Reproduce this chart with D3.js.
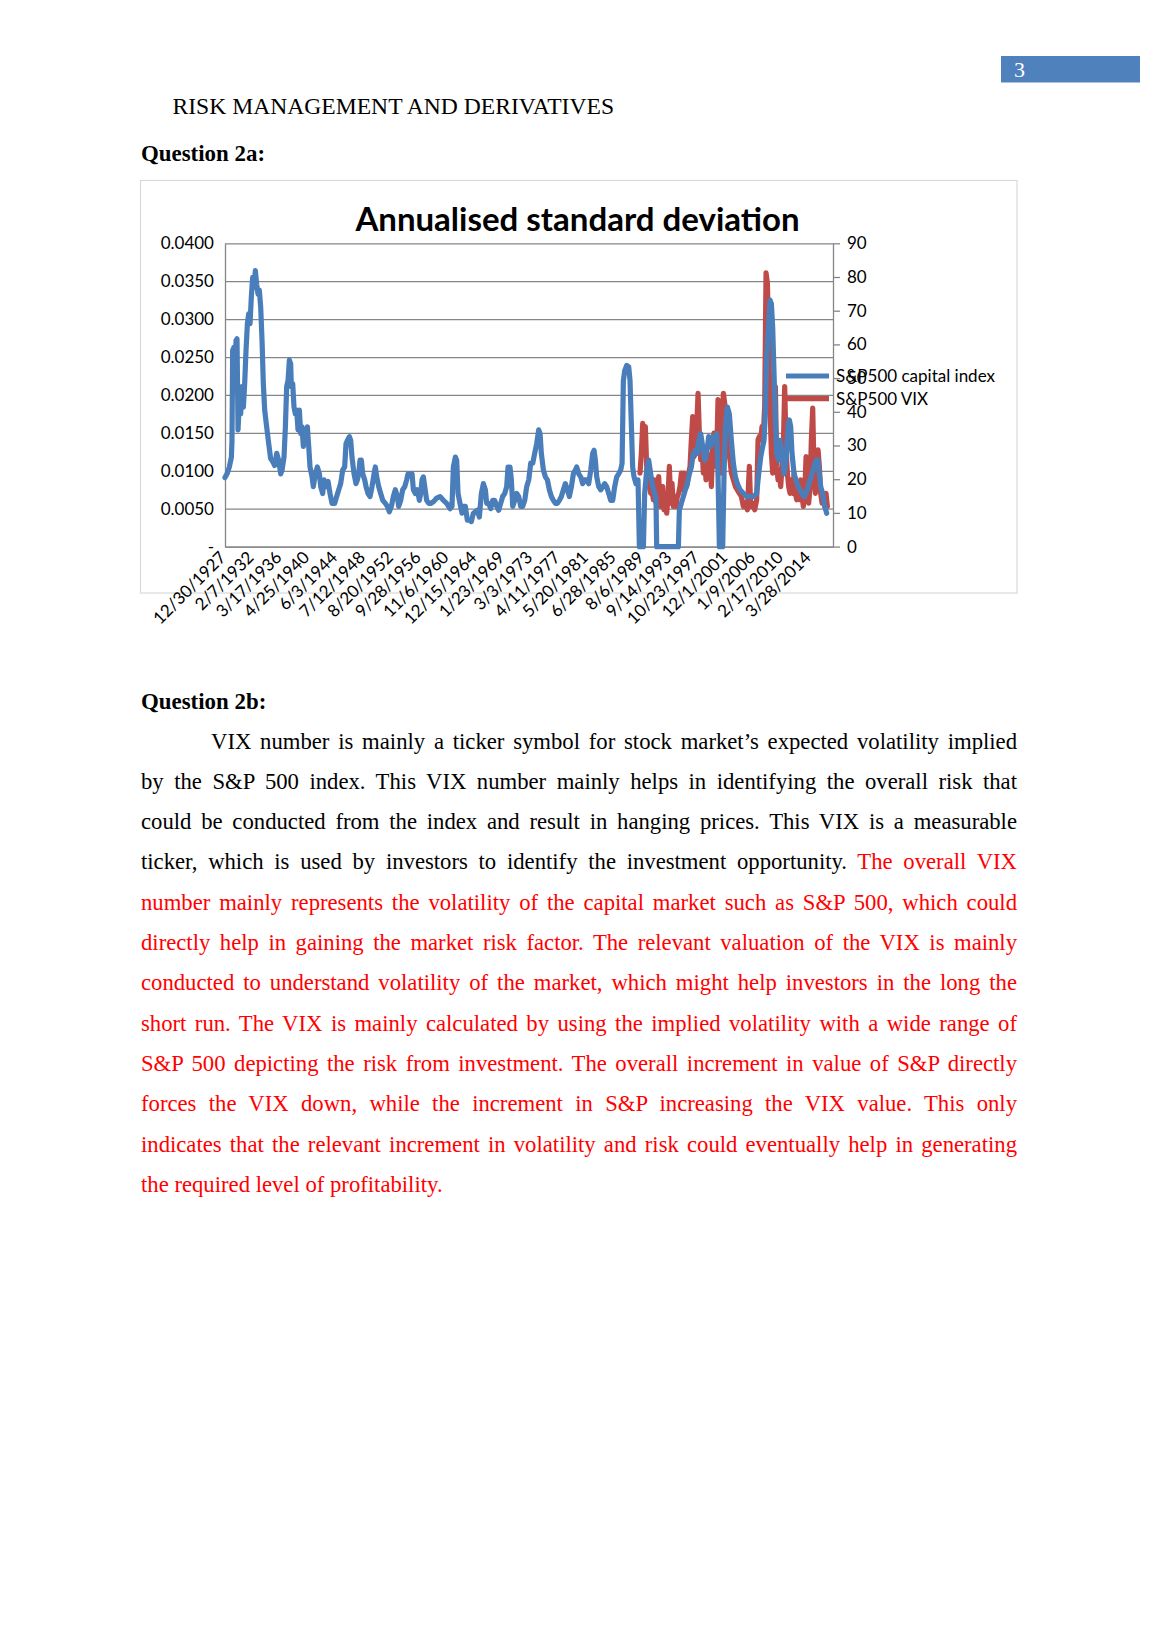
<!DOCTYPE html>
<html>
<head>
<meta charset="utf-8">
<script src="https://cdnjs.cloudflare.com/ajax/libs/d3/7.8.5/d3.min.js"></script>
<style>
body { margin: 0; background: #fff; }
#page { position: relative; width: 1158px; height: 1638px; overflow: hidden; background: #fff; }
#page svg { position: absolute; left: 0; top: 0; }
.line { position: absolute; left: 141px; width: 876px; height: 40.3px; line-height: 40.3px;
        font-family: "Liberation Serif", "Times New Roman", serif; font-size: 22.7px;
        text-align: justify; text-align-last: justify; color: #000; }
.line.first { text-indent: 70px; }
.line.last { text-align-last: left; }
.red { color: #ff0000; }
</style>
</head>
<body>
<div id="page"></div>
<script>
// S&P500 capital index, rolling std dev (left axis)  [year, value]
var spxStd = [
  [1928.00,0.0091],[1928.30,0.0096],[1928.64,0.0105],[1928.94,0.0118],[1929.03,0.0140],[1929.13,0.0259],
  [1929.33,0.0263],[1929.53,0.0206],[1929.62,0.0272],[1929.77,0.0274],[1929.92,0.0154],[1930.12,0.0193],
  [1930.31,0.0175],[1930.51,0.0211],[1930.71,0.0184],[1930.90,0.0215],[1931.10,0.0259],[1931.30,0.0294],
  [1931.49,0.0307],[1931.69,0.0294],[1931.88,0.0329],[1932.08,0.0355],[1932.28,0.0342],[1932.47,0.0364],
  [1932.67,0.0346],[1932.87,0.0333],[1933.06,0.0338],[1933.26,0.0316],[1933.46,0.0272],[1933.65,0.0215],
  [1933.85,0.0180],[1934.14,0.0158],[1934.44,0.0136],[1934.73,0.0116],[1935.03,0.0112],[1935.32,0.0107],
  [1935.62,0.0123],[1935.91,0.0114],[1936.21,0.0096],[1936.41,0.0101],[1936.70,0.0118],[1936.90,0.0158],
  [1937.09,0.0211],[1937.29,0.0219],[1937.49,0.0246],[1937.68,0.0241],[1937.78,0.0211],[1937.98,0.0215],
  [1938.17,0.0184],[1938.37,0.0175],[1938.57,0.0180],[1938.76,0.0154],[1938.96,0.0180],[1939.16,0.0149],
  [1939.35,0.0158],[1939.55,0.0132],[1939.75,0.0154],[1939.94,0.0145],[1940.14,0.0158],[1940.34,0.0132],
  [1940.53,0.0105],[1940.83,0.0092],[1941.02,0.0079],[1941.32,0.0096],[1941.61,0.0105],[1941.91,0.0096],
  [1942.11,0.0079],[1942.40,0.0070],[1942.60,0.0088],[1942.89,0.0079],[1943.19,0.0086],[1943.48,0.0070],
  [1943.78,0.0057],[1944.17,0.0057],[1944.46,0.0066],[1944.76,0.0075],[1945.05,0.0083],[1945.35,0.0101],
  [1945.64,0.0105],[1945.84,0.0136],[1946.04,0.0140],[1946.33,0.0145],[1946.53,0.0140],[1946.72,0.0118],
  [1947.02,0.0096],[1947.31,0.0083],[1947.51,0.0088],[1947.71,0.0096],[1947.90,0.0114],[1948.10,0.0114],
  [1948.30,0.0096],[1948.59,0.0088],[1948.79,0.0079],[1949.08,0.0070],[1949.38,0.0066],[1949.67,0.0079],
  [1949.97,0.0096],[1950.16,0.0105],[1950.36,0.0092],[1950.66,0.0079],[1950.95,0.0070],[1951.25,0.0061],
  [1951.64,0.0057],[1951.93,0.0053],[1952.23,0.0046],[1952.52,0.0053],[1952.82,0.0066],[1953.11,0.0075],
  [1953.41,0.0066],[1953.60,0.0053],[1953.90,0.0061],[1954.19,0.0075],[1954.49,0.0079],[1954.78,0.0088],
  [1954.98,0.0096],[1955.28,0.0096],[1955.57,0.0096],[1955.77,0.0075],[1956.06,0.0070],[1956.36,0.0075],
  [1956.65,0.0061],[1956.85,0.0070],[1957.04,0.0088],[1957.24,0.0092],[1957.44,0.0079],[1957.73,0.0061],
  [1958.03,0.0057],[1958.32,0.0057],[1958.71,0.0059],[1959.20,0.0064],[1959.69,0.0066],[1960.19,0.0061],
  [1960.68,0.0057],[1961.17,0.0050],[1961.46,0.0053],[1961.66,0.0105],[1961.96,0.0118],[1962.15,0.0114],
  [1962.35,0.0070],[1962.64,0.0057],[1962.94,0.0044],[1963.13,0.0053],[1963.43,0.0053],[1963.72,0.0035],
  [1964.02,0.0035],[1964.31,0.0033],[1964.61,0.0044],[1964.90,0.0046],[1965.20,0.0048],[1965.49,0.0039],
  [1965.79,0.0070],[1966.08,0.0083],[1966.38,0.0075],[1966.57,0.0057],[1966.87,0.0057],[1967.16,0.0050],
  [1967.46,0.0061],[1967.75,0.0061],[1968.05,0.0053],[1968.34,0.0048],[1968.64,0.0057],[1968.93,0.0066],
  [1969.23,0.0070],[1969.52,0.0079],[1969.72,0.0105],[1970.01,0.0105],[1970.21,0.0088],[1970.41,0.0053],
  [1970.70,0.0061],[1971.00,0.0070],[1971.29,0.0066],[1971.59,0.0053],[1971.88,0.0053],[1972.18,0.0061],
  [1972.47,0.0079],[1972.77,0.0088],[1973.06,0.0110],[1973.36,0.0110],[1973.65,0.0123],[1973.95,0.0136],
  [1974.24,0.0154],[1974.44,0.0149],[1974.63,0.0123],[1974.93,0.0101],[1975.22,0.0092],[1975.52,0.0088],
  [1975.81,0.0075],[1976.11,0.0066],[1976.40,0.0061],[1976.70,0.0057],[1976.99,0.0057],[1977.29,0.0061],
  [1977.58,0.0066],[1977.88,0.0075],[1978.17,0.0083],[1978.47,0.0075],[1978.76,0.0066],[1979.06,0.0079],
  [1979.35,0.0096],[1979.65,0.0101],[1979.84,0.0105],[1980.14,0.0096],[1980.43,0.0092],[1980.73,0.0083],
  [1981.02,0.0088],[1981.32,0.0088],[1981.61,0.0083],[1981.91,0.0101],[1982.20,0.0123],[1982.40,0.0127],
  [1982.59,0.0114],[1982.79,0.0092],[1983.09,0.0079],[1983.38,0.0075],[1983.68,0.0079],[1983.97,0.0083],
  [1984.26,0.0079],[1984.56,0.0070],[1984.85,0.0061],[1985.15,0.0061],[1985.44,0.0079],[1985.74,0.0092],
  [1986.03,0.0096],[1986.33,0.0101],[1986.53,0.0110],[1986.72,0.0219],[1986.92,0.0232],[1987.21,0.0239],
  [1987.51,0.0237],[1987.70,0.0219],[1987.90,0.0160],[1988.09,0.0105],[1988.29,0.0092],[1988.58,0.0083],
  [1988.88,0.0088],[1989.08,0],[1989.67,0],[1989.86,0.0070],[1990.16,0.0101],[1990.45,0.0114],
  [1990.75,0.0096],[1991.04,0.0079],[1991.34,0.0070],[1991.53,0.0061],[1991.63,0],[1994.83,0],
  [1994.97,0.0048],[1995.27,0.0057],[1995.56,0.0066],[1995.86,0.0075],[1996.15,0.0083],[1996.45,0.0096],
  [1996.74,0.0105],[1997.04,0.0123],[1997.33,0.0127],[1997.63,0.0123],[1997.82,0.0140],[1998.12,0.0149],
  [1998.41,0.0132],[1998.71,0.0114],[1999.00,0.0123],[1999.30,0.0145],[1999.59,0.0132],[1999.89,0.0145],
  [2000.18,0.0140],[2000.48,0.0149],[2000.67,0.0096],[2000.87,0],[2001.36,0],[2001.56,0.0096],
  [2001.75,0.0158],[2002.05,0.0184],[2002.34,0.0175],[2002.64,0.0140],[2002.93,0.0110],[2003.23,0.0092],
  [2003.52,0.0083],[2003.92,0.0075],[2004.41,0.0070],[2004.90,0.0066],[2005.39,0.0066],[2005.88,0.0066],
  [2006.37,0.0070],[2006.67,0.0096],[2006.96,0.0118],[2007.26,0.0132],[2007.45,0.0140],[2007.65,0.0175],
  [2007.85,0.0250],[2008.14,0.0294],[2008.34,0.0325],[2008.54,0.0320],[2008.73,0.0289],[2008.93,0.0228],
  [2009.13,0.0167],[2009.32,0.0123],[2009.62,0.0114],[2009.81,0.0140],[2010.11,0.0123],[2010.40,0.0096],
  [2010.70,0.0114],[2010.99,0.0158],[2011.19,0.0167],[2011.39,0.0158],[2011.58,0.0123],[2011.88,0.0096],
  [2012.17,0.0088],[2012.47,0.0079],[2012.76,0.0075],[2013.06,0.0070],[2013.35,0.0066],[2013.65,0.0070],
  [2013.94,0.0079],[2014.24,0.0088],[2014.53,0.0096],[2014.83,0.0105],[2015.12,0.0114],[2015.42,0.0114],
  [2015.61,0.0096],[2015.81,0.0079],[2016.10,0.0070],[2016.40,0.0053],[2016.69,0.0044]
];

// S&P500 VIX (right axis)  [year, value]
var vix = [
  [1989.17,21.8],[1989.37,27.7],[1989.57,36.6],[1989.76,27.7],[1989.96,35.6],[1990.16,23.8],
  [1990.35,19.8],[1990.55,17.8],[1990.75,15.8],[1990.94,16.8],[1991.14,13.9],[1991.34,19.8],
  [1991.53,12.9],[1991.73,15.8],[1991.93,20.8],[1992.12,11.9],[1992.32,15.8],[1992.52,17.8],
  [1992.71,10.9],[1992.91,13.9],[1993.11,9.9],[1993.30,14.9],[1993.50,23.8],[1993.70,12.9],
  [1993.89,18.8],[1994.09,11.9],[1994.28,13.9],[1994.48,11.9],[1994.68,14.9],[1994.87,15.8],
  [1995.07,17.8],[1995.27,21.8],[1995.46,16.8],[1995.66,21.8],[1995.86,19.8],[1996.05,17.8],
  [1996.35,21.8],[1996.55,23.8],[1996.74,31.7],[1996.94,38.6],[1997.14,26.7],[1997.33,27.7],
  [1997.53,35.6],[1997.73,45.5],[1997.92,33.7],[1998.12,25.7],[1998.31,29.7],[1998.51,21.8],
  [1998.71,26.7],[1998.90,19.8],[1999.10,27.7],[1999.30,21.8],[1999.49,26.7],[1999.69,17.8],
  [1999.89,29.7],[2000.08,33.7],[2000.28,23.8],[2000.48,27.7],[2000.67,43.6],[2000.87,29.7],
  [2001.07,21.8],[2001.26,33.7],[2001.46,45.5],[2001.66,42.6],[2001.85,35.6],[2002.05,29.7],
  [2002.25,27.7],[2002.44,25.7],[2002.64,21.8],[2002.93,19.8],[2003.23,17.8],[2003.52,16.8],
  [2003.82,15.8],[2004.11,14.9],[2004.41,11.9],[2004.70,12.9],[2005.00,10.9],[2005.29,23.8],
  [2005.49,11.9],[2005.78,12.9],[2006.08,10.9],[2006.37,13.9],[2006.57,31.7],[2006.77,32.7],
  [2006.96,31.7],[2007.16,35.6],[2007.36,33.7],[2007.55,41.6],[2007.75,81.2],[2007.95,78.2],
  [2008.14,61.4],[2008.34,41.6],[2008.54,27.7],[2008.73,21.8],[2008.93,29.7],[2009.13,47.5],
  [2009.32,23.8],[2009.52,19.8],[2009.72,21.8],[2009.91,17.8],[2010.11,23.8],[2010.30,29.7],
  [2010.50,47.5],[2010.70,29.7],[2010.89,21.8],[2011.09,17.8],[2011.29,15.8],[2011.48,19.8],
  [2011.68,15.8],[2011.88,21.8],[2012.07,15.8],[2012.27,13.9],[2012.47,17.8],[2012.66,13.9],
  [2012.86,19.8],[2013.06,14.9],[2013.25,11.9],[2013.45,15.8],[2013.65,26.7],[2013.84,15.8],
  [2014.04,12.9],[2014.24,17.8],[2014.43,31.7],[2014.63,41.1],[2014.83,21.8],[2015.02,15.8],
  [2015.22,21.8],[2015.42,28.7],[2015.61,23.8],[2015.81,15.8],[2016.01,12.9],[2016.20,13.9],
  [2016.40,11.9],[2016.59,15.8],[2016.79,11.9]
];

var dateLabels = ["12/30/1927","2/7/1932","3/17/1936","4/25/1940","6/3/1944","7/12/1948",
  "8/20/1952","9/28/1956","11/6/1960","12/15/1964","1/23/1969","3/3/1973","4/11/1977",
  "5/20/1981","6/28/1985","8/6/1989","9/14/1993","10/23/1997","12/1/2001","1/9/2006",
  "2/17/2010","3/28/2014"];
var leftTicks = [0, 0.005, 0.010, 0.015, 0.020, 0.025, 0.030, 0.035, 0.040];
var rightTicks = [0, 10, 20, 30, 40, 50, 60, 70, 80, 90];
var seriesNames = ["S&P500 capital index", "S&P500 VIX"];

var bodyLines = [
  [["VIX number is mainly a ticker symbol for stock market\u2019s expected volatility implied", 0]],
  [["by the S&P 500 index. This VIX number mainly helps in identifying the overall risk that", 0]],
  [["could be conducted from the index and result in hanging prices. This VIX is a measurable", 0]],
  [["ticker, which is used by investors to identify the investment opportunity. ", 0], ["The overall VIX", 1]],
  [["number mainly represents the volatility of the capital market such as S&P 500, which could", 1]],
  [["directly help in gaining the market risk factor. The relevant valuation of the VIX is mainly", 1]],
  [["conducted to understand volatility of the market, which might help investors in the long the", 1]],
  [["short run. The VIX is mainly calculated by using the implied volatility with a wide range of", 1]],
  [["S&P 500 depicting the risk from investment. The overall increment in value of S&P directly", 1]],
  [["forces the VIX down, while the increment in S&P increasing the VIX value. This only", 1]],
  [["indicates that the relevant increment in volatility and risk could eventually help in generating", 1]],
  [["the required level of profitability.", 1]]
];

function decYear(s) {
  var p = s.split("/").map(Number);
  var t = new Date(p[2], p[0] - 1, p[1]), t0 = new Date(p[2], 0, 1), t1 = new Date(p[2] + 1, 0, 1);
  return p[2] + (t - t0) / (t1 - t0);
}

var page = d3.select("#page");
var svg = page.append("svg").attr("width", 1158).attr("height", 730);

var serif = "'Liberation Serif', 'Times New Roman', serif";
var sans = "Lato, 'Noto Sans', sans-serif";

// page header
svg.append("rect").attr("x", 1001).attr("y", 56).attr("width", 139).attr("height", 26.5).attr("fill", "#4F81BD");
svg.append("text").attr("x", 1014).attr("y", 77).text("3")
  .style("font-family", serif).style("font-size", "22px").attr("fill", "#fff");
svg.append("text").attr("x", 172.5).attr("y", 114).text("RISK MANAGEMENT AND DERIVATIVES")
  .style("font-family", serif).style("font-size", "23.6px");
svg.append("text").attr("x", 141).attr("y", 160.7).text("Question 2a:")
  .style("font-family", serif).style("font-size", "22.9px").style("font-weight", "bold");
svg.append("text").attr("x", 141).attr("y", 709.3).text("Question 2b:")
  .style("font-family", serif).style("font-size", "22.9px").style("font-weight", "bold");

// chart frame
svg.append("rect").attr("x", 140.5).attr("y", 180.5).attr("width", 876.5).attr("height", 412.5)
  .attr("fill", "#fff").attr("stroke", "#d9d9d9").attr("stroke-width", 1.2);

var x0 = 225, x1 = 833, yBot = 546.6, yTop = 243.3;
var x = d3.scaleLinear().domain([1928, 2017.62]).range([x0, x1]);
var yL = d3.scaleLinear().domain([0, 0.04]).range([yBot, yTop]);
var yR = d3.scaleLinear().domain([0, 90]).range([yBot, yTop]);
var grid = "#868686";

svg.append("text").attr("x", 577.5).attr("y", 231).attr("text-anchor", "middle")
  .text("Annualised standard deviation")
  .style("font-family", sans).style("font-size", "33px").style("font-weight", "bold");

// gridlines
var gGrid = svg.append("g").attr("transform", "translate(" + x0 + ",0)")
  .call(d3.axisLeft(yL).tickValues(leftTicks).tickSize(-(x1 - x0)).tickFormat(""));
gGrid.select(".domain").remove();
gGrid.selectAll("line").attr("stroke", grid).attr("stroke-width", 1.3);

// left axis
var gL = svg.append("g").attr("transform", "translate(" + x0 + ",0)")
  .call(d3.axisLeft(yL).tickValues(leftTicks).tickSize(0).tickSizeOuter(0).tickPadding(11)
    .tickFormat(function(d) { return d === 0 ? "-" : d.toFixed(4); }));
gL.select(".domain").attr("stroke", grid).attr("stroke-width", 1.3);

// right axis
var gR = svg.append("g").attr("transform", "translate(" + x1 + ",0)")
  .call(d3.axisRight(yR).tickValues(rightTicks).tickSize(7).tickSizeOuter(0).tickPadding(7));
gR.select(".domain").attr("stroke", grid).attr("stroke-width", 1.3);
gR.selectAll("line").attr("stroke", grid).attr("stroke-width", 1.3);

// bottom axis
var gB = svg.append("g").attr("transform", "translate(0," + yBot + ")")
  .call(d3.axisBottom(x).tickValues(dateLabels.map(decYear)).tickSize(0).tickSizeOuter(0)
    .tickFormat(function(d, i) { return dateLabels[i]; }));
gB.select(".domain").attr("stroke", grid).attr("stroke-width", 1.3);
gB.selectAll("text").attr("x", 0).attr("y", 0).attr("dy", 0)
  .attr("text-anchor", "end").attr("transform", "translate(1.5,12) rotate(-45)");

[gL, gR, gB].forEach(function(g) {
  g.attr("font-family", null).attr("font-size", null);
  g.selectAll("text").style("font-family", sans).style("font-size", "17px").attr("fill", "#000");
});

// series
var lineL = d3.line().x(function(d) { return x(d[0]); }).y(function(d) { return yL(d[1]); });
var lineR = d3.line().x(function(d) { return x(d[0]); }).y(function(d) { return yR(d[1]); });
svg.append("path").datum(vix).attr("d", lineR).attr("fill", "none")
  .attr("stroke", "#BE4B48").attr("stroke-width", 5.2).attr("stroke-linejoin", "round").attr("stroke-linecap", "round");
svg.append("path").datum(spxStd).attr("d", lineL).attr("fill", "none")
  .attr("stroke", "#4A7EBB").attr("stroke-width", 5.2).attr("stroke-linejoin", "round").attr("stroke-linecap", "round");

// legend
var legColors = ["#4A7EBB", "#BE4B48"];
var leg = svg.append("g").selectAll("g").data(seriesNames).enter().append("g")
  .attr("transform", function(d, i) { return "translate(786," + (376 + i * 22.7) + ")"; });
leg.append("line").attr("x1", 0).attr("x2", 43).attr("stroke-width", 5.2)
  .attr("stroke", function(d, i) { return legColors[i]; });
leg.append("text").attr("x", 50).attr("dy", "0.35em").text(function(d) { return d; })
  .style("font-family", sans).style("font-size", "17px").attr("fill", "#000");

// paragraph
bodyLines.forEach(function(parts, i) {
  var div = page.append("div").attr("class", "line" + (i === 0 ? " first" : "") + (i === bodyLines.length - 1 ? " last" : ""))
    .style("top", (749.3 - 27.8 + i * 40.3) + "px");
  parts.forEach(function(p) {
    div.append("span").attr("class", p[1] ? "red" : null).text(p[0]);
  });
});
</script>
</body>
</html>
